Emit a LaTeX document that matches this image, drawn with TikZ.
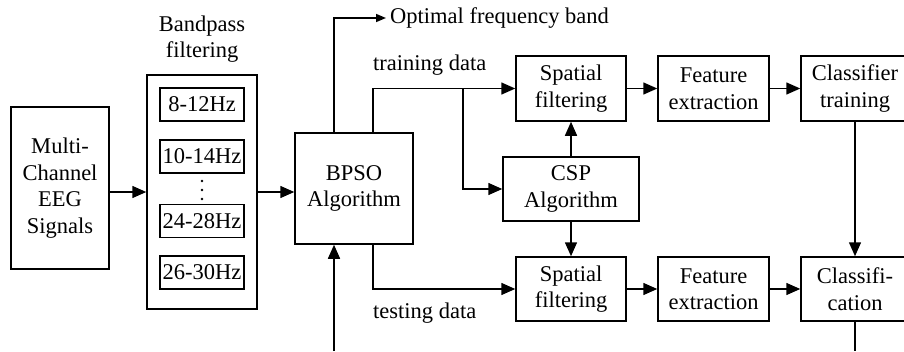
\documentclass[tikz,border=0pt]{standalone}
\usepackage{fontspec}
\setmainfont{Liberation Serif}
\usetikzlibrary{arrows.meta}
\begin{document}
\begin{tikzpicture}[x=1pt,y=-1pt,
  every node/.style={font=\fontsize{22.5}{26.5}\selectfont},
  blk/.style={draw,line width=1.5pt,align=center,inner sep=0pt},
  band/.style={blk,minimum width=84pt,minimum height=33pt},
  arr/.style={line width=1.5pt,-{Triangle[length=14pt,width=12pt]}},
  sarr/.style={line width=1.5pt,-{Triangle[length=10pt,width=8pt]}},
  ln/.style={line width=1.5pt}]
\useasboundingbox (0,0) rectangle (904,351);
\clip (0,0) rectangle (904,351);

% input and filter bank
\node[blk,minimum width=98pt,minimum height=162pt] (eeg) at (60,188) {Multi-\\Channel\\EEG\\Signals};
\node[blk,minimum width=110pt,minimum height=234pt] (bp) at (202,192) {};
\node[align=center] (bptitle) at (202,39) {Bandpass\\filtering};
\node[band] (b1) at (202,104.5) {8-12Hz};
\node[band] (b2) at (202,156.5) {10-14Hz};
\node[band] (b3) at (202,221) {24-28Hz};
\node[band] (b4) at (202,272.5) {26-30Hz};
\foreach \yy in {181,190,199} \fill (202,\yy) circle (1.4pt);

% band selection
\node[blk,minimum width=118pt,minimum height=111pt] (bpso) at (354,188.5) {BPSO\\Algorithm};

% training / testing branches
\node[blk,minimum width=110pt,minimum height=65pt] (sp1) at (571,88.5) {Spatial\\filtering};
\node[blk,minimum width=111pt,minimum height=65pt] (fe1) at (713.5,88.5) {Feature\\extraction};
\node[blk,minimum width=108pt,minimum height=65pt] (ct) at (855,88.5) {Classifier\\training};
\node[blk,minimum width=136pt,minimum height=64pt] (csp) at (571,189) {CSP\\Algorithm};
\node[blk,minimum width=110pt,minimum height=64pt] (sp2) at (571,289) {Spatial\\filtering};
\node[blk,minimum width=111pt,minimum height=64pt] (fe2) at (713.5,289) {Feature\\extraction};
\node[blk,minimum width=108pt,minimum height=64pt] (cl) at (855,289) {Classifi-\\cation};

% labels
\node[anchor=west,inner sep=4pt] (opt) at (386,18) {Optimal frequency band};
\node[anchor=west,inner sep=0pt] (trl) at (373,65) {training data};
\node[anchor=west,inner sep=0pt] (tel) at (373,313) {testing data};

% connectors
\draw[arr] (eeg.east |- bp.west) -- (bp.west);
\draw[arr] (bp.east) -- (bpso.west |- bp.east);
\draw[sarr] ([xshift=-20pt]bpso.north) |- (opt.west);
\draw[arr] ([xshift=19pt]bpso.north) |- (sp1.west);
\coordinate (tb) at (463,88.5);
\draw[arr] (tb) |- (csp.west);
\draw[arr] ([xshift=19pt]bpso.south) |- (sp2.west);
\coordinate (fb) at (334,351);
\draw[arr] (fb) -- (fb |- bpso.south);
\draw[arr] (csp.north) -- (sp1.south);
\draw[arr] (csp.south) -- (sp2.north);
\draw[arr] (sp1.east) -- (fe1.west);
\draw[arr] (fe1.east) -- (ct.west);
\draw[arr] (sp2.east) -- (fe2.west);
\draw[arr] (fe2.east) -- (cl.west);
\draw[arr] (ct.south) -- (cl.north);
\coordinate (out) at (855,351);
\draw[ln] (cl.south) -- (out);
\end{tikzpicture}
\end{document}
